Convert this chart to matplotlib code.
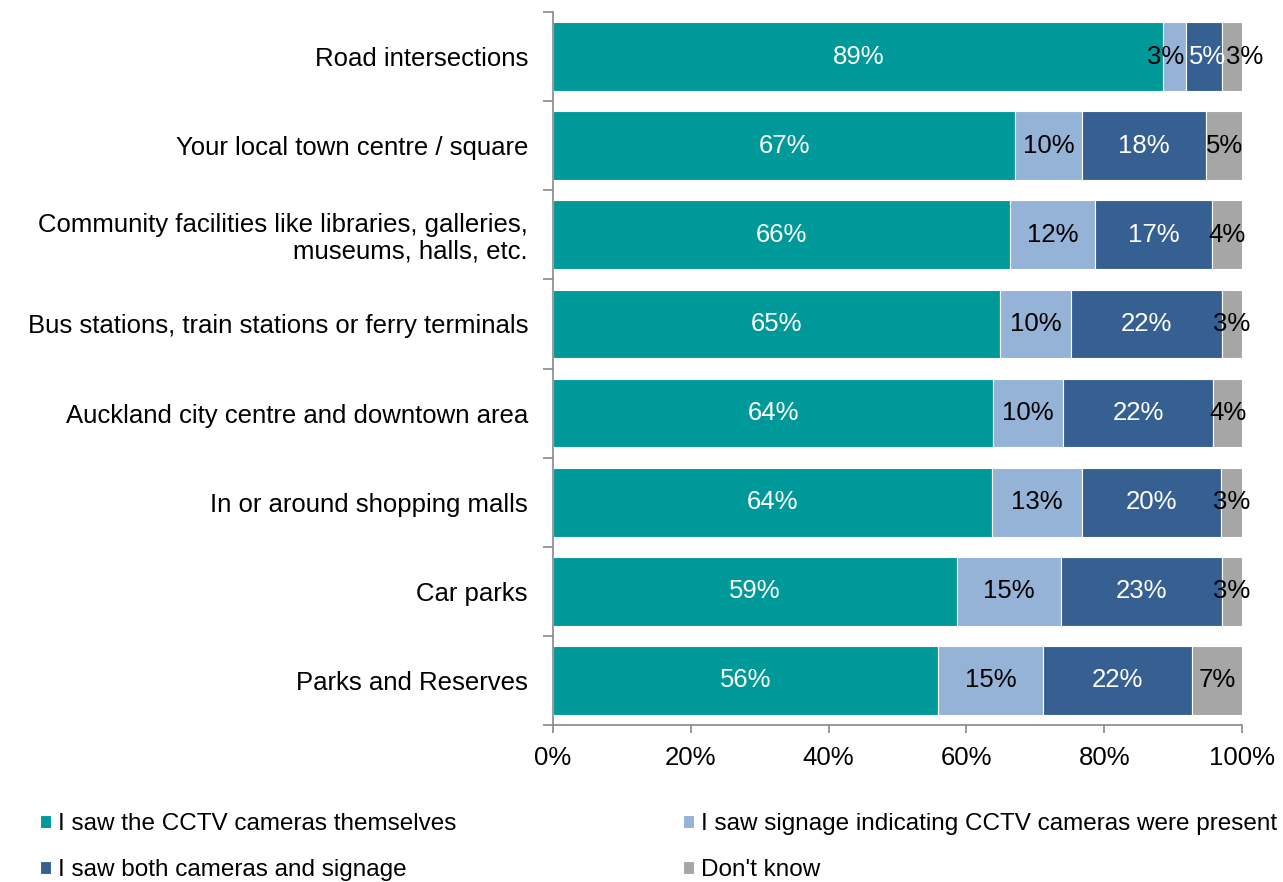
import numpy as np
import matplotlib.pyplot as plt

plt.rcParams['font.family'] = ['Liberation Sans', 'DejaVu Sans']

categories = ['Road intersections', 'Your local town centre / square',
              'Community facilities like libraries, galleries,\nmuseums, halls, etc.',
              'Bus stations, train stations or ferry terminals',
              'Auckland city centre and downtown area',
              'In or around shopping malls', 'Car parks', 'Parks and Reserves']
saw_cameras = [88.6, 67.1, 66.3, 64.9, 63.9, 63.7, 58.6, 55.9]
saw_signage = [3.2, 9.7, 12.4, 10.3, 10.1, 13.1, 15.1, 15.2]
saw_both = [5.3, 18.0, 17.0, 21.9, 21.8, 20.2, 23.4, 21.6]
dont_know = [2.9, 5.2, 4.3, 2.9, 4.2, 3.0, 2.9, 7.3]

series = [('I saw the CCTV cameras themselves', saw_cameras, '#009999', 'white'),
          ('I saw signage indicating CCTV cameras were present', saw_signage, '#95B3D7', 'black'),
          ('I saw both cameras and signage', saw_both, '#376092', 'white'),
          ("Don't know", dont_know, '#A6A6A6', 'black')]
# labels on the narrow first row are nudged sideways, like the original
nudge = [-1.3, 0.6, 1.9]

fig = plt.figure(figsize=(12.83, 8.82), dpi=100)
ax = fig.add_axes([553 / 1283, 1 - 725 / 882, 689 / 1283, 713 / 882])

y = np.arange(len(categories))
left = np.zeros(len(categories))
handles = {}
for k, (name, vals, col, tcol) in enumerate(series):
    vals = np.array(vals)
    bars = ax.barh(y, vals, left=left, height=0.77, color=col,
                   edgecolor='white', linewidth=0.8, label=name)
    handles[name] = bars
    for yi, l, v in zip(y, left, vals):
        dx = nudge[k - 1] if (yi == 0 and k > 0) else 0
        ax.text(l + v / 2 + dx, yi, f'{round(v):.0f}%', ha='center', va='center',
                color=tcol, fontsize=18.5)
    left += vals

ax.set_ylim(len(categories) - 0.5, -0.5)
ax.set_xlim(0, 100)
ax.set_yticks(y)
ax.set_yticklabels(categories, fontsize=18.5, linespacing=1.1)
ax.set_yticks(np.arange(-0.5, len(categories)), minor=True)
ax.tick_params(axis='y', which='major', length=0, pad=18)
ax.tick_params(axis='y', which='minor', length=7, color='#888888', width=1.2)
ax.set_xticks(np.arange(0, 101, 20))
ax.set_xticklabels([f'{v}%' for v in range(0, 101, 20)], fontsize=18.5)
ax.tick_params(axis='x', length=6, color='#888888', width=1.2, pad=9)
for s in ['top', 'right']:
    ax.spines[s].set_visible(False)
for s in ['left', 'bottom']:
    ax.spines[s].set_color('#888888')
    ax.spines[s].set_linewidth(1.2)

order = ['I saw the CCTV cameras themselves', 'I saw both cameras and signage',
         'I saw signage indicating CCTV cameras were present', "Don't know"]
fig.legend([handles[o] for o in order], order, loc='lower left',
           bbox_to_anchor=(40 / 1283, 1 / 882), ncol=2, frameon=False,
           fontsize=17.5, handlelength=0.45, handleheight=0.45, handletextpad=0.3,
           columnspacing=9.3, labelspacing=0.97, borderpad=0, borderaxespad=0)

fig.savefig('out.png', dpi=100)
